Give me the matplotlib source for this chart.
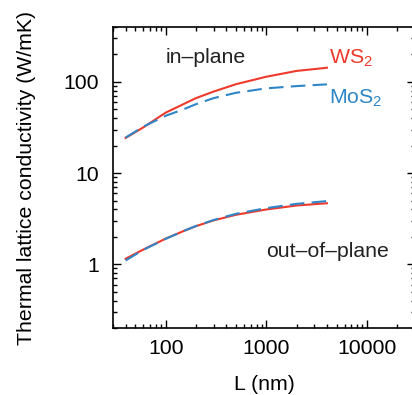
import numpy as np
import matplotlib.pyplot as plt
from matplotlib.ticker import LogLocator, FixedLocator, NullFormatter

plt.rcParams['font.family'] = ['Liberation Sans', 'DejaVu Sans']
plt.rcParams['mathtext.fontset'] = 'custom'
plt.rcParams['mathtext.rm'] = 'Liberation Sans'
plt.rcParams['mathtext.it'] = 'Liberation Sans'

# sample lengths (nm)
L = [40, 60, 100, 150, 200, 300, 500, 1000, 2000, 4000]

# in-plane conductivity (W/mK)
ws2_in = [24.3, 31.7, 46, 57, 66.4, 78.4, 94.4, 114, 132, 143]
mos2_in = [24.5, 32.3, 42.5, 50, 57, 66.4, 76, 85, 90, 94]

# out-of-plane conductivity (W/mK)
ws2_out = [1.15, 1.45, 1.91, 2.31, 2.62, 3.03, 3.49, 3.99, 4.41, 4.67]
mos2_out = [1.10, 1.44, 1.90, 2.31, 2.63, 3.06, 3.58, 4.13, 4.60, 4.93]

red = '#ee3a2c'
blue = '#2f86c6'
fs = 15.3

fig = plt.figure(figsize=(4.12, 3.95), dpi=100)
ax = fig.add_axes([0.2743, 0.1696, 0.733, 0.762])

ax.plot(L, ws2_in, color=red, lw=1.5)
ax.plot(L, mos2_in, color=blue, lw=1.5, dashes=(7, 3.5))
ax.plot(L, ws2_out, color=red, lw=1.5)
ax.plot(L, mos2_out, color=blue, lw=1.5, dashes=(7, 3.5))

ax.set_xscale('log')
ax.set_yscale('log')
ax.set_xlim(30, 30000)
ax.set_ylim(0.2, 400)

ax.xaxis.set_major_locator(FixedLocator([100, 1000, 10000]))
ax.yaxis.set_major_locator(FixedLocator([1, 10, 100]))
ax.xaxis.set_minor_locator(LogLocator(base=10, subs=np.arange(2, 10)))
ax.yaxis.set_minor_locator(LogLocator(base=10, subs=np.arange(2, 10)))
ax.xaxis.set_minor_formatter(NullFormatter())
ax.yaxis.set_minor_formatter(NullFormatter())
ax.set_xticklabels(['100', '1000', '10000'])
ax.set_yticklabels(['1', '10', '100'])

ax.tick_params(which='both', direction='in', top=True, right=True, labelsize=fs, width=1)
ax.tick_params(which='major', length=6)
ax.tick_params(which='minor', length=3)
ax.tick_params(axis='x', pad=8)
ax.tick_params(axis='y', pad=10)
for s in ax.spines.values():
    s.set_linewidth(1.2)

ax.set_xlabel('L (nm)', fontsize=fs, labelpad=12)
ax.set_ylabel('Thermal lattice conductivity (W/mK)', fontsize=fs, labelpad=20)

ax.text(100, 161, 'in\u2013plane', fontsize=fs, color='#222222', va='baseline', ha='left')
ax.text(1000, 1.19, 'out\u2013of\u2013plane', fontsize=fs, color='#222222', va='baseline', ha='left')
ax.text(4150, 157, r'WS$_\mathregular{2}$', fontsize=fs, color=red, va='baseline', ha='left')
ax.text(4150, 57.5, r'MoS$_\mathregular{2}$', fontsize=fs, color=blue, va='baseline', ha='left')

fig.savefig('out.png', dpi=100)
